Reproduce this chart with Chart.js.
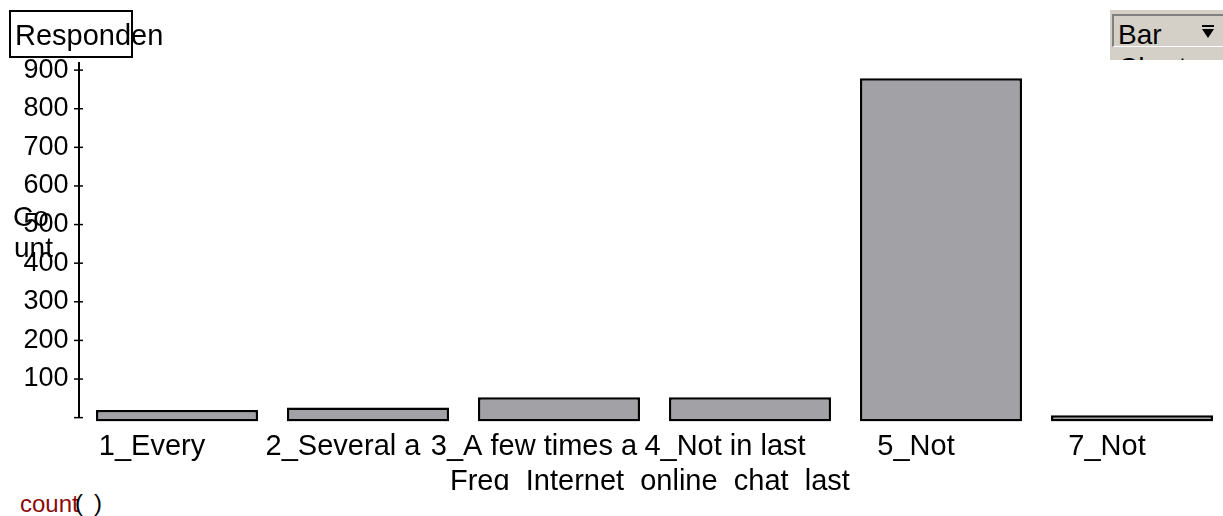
<!DOCTYPE html>
<html>
<head>
<meta charset="utf-8">
<title>Responden</title>
<script src="https://cdn.jsdelivr.net/npm/chart.js@4.4.1/dist/chart.umd.min.js"></script>
<style>
  body { margin: 0; background: #fff; overflow: hidden; width: 1223px; height: 516px; position: relative;
         font-family: "Liberation Sans", Arial, sans-serif; }
  #wrap { position: absolute; left: 0; top: 0; width: 1240px; height: 470px; }
  .t { position: absolute; white-space: nowrap; color: #000; }
  #ttlBox { position: absolute; left: 9px; top: 10px; width: 120px; height: 44px; border: 2px solid #000; }
  #xTitle { position: absolute; left: 450px; top: 462px; width: 420px; height: 28px; overflow: hidden; }
  #panel { position: absolute; left: 1110px; top: 10px; width: 113px; height: 50px; background: #d4d0c8; overflow: hidden; }
  #field { position: absolute; left: 2px; top: 4px; width: 120px; height: 30px;
           border-top: 2px solid #808080; border-left: 2px solid #808080; border-bottom: 1px solid #fff; }
  #arrowBar { position: absolute; left: 88px; top: 9px; width: 12px; height: 2px; background: #000; }
  #arrowTri { position: absolute; left: 88px; top: 13px; width: 0; height: 0;
              border-left: 6px solid transparent; border-right: 6px solid transparent; border-top: 9px solid #000; }
</style>
</head>
<body>
<div id="wrap"><canvas id="chart" width="1240" height="470"></canvas></div>

<div id="ttlBox"></div>
<div class="t" style="left:15px; top:20.5px; font-size:29px; line-height:29px;">Responden</div>

<div class="t" style="left:13px; top:203px; font-size:28px; line-height:28px;">Co</div>
<div class="t" style="left:14px; top:234px; font-size:28px; line-height:28px;">unt</div>

<div id="xTitle"><div class="t" style="left:0; top:3.5px; font-size:29px; line-height:29px;">Freq_Internet_online_chat_last</div></div>

<div class="t" style="left:20px; top:492px; font-size:24px; line-height:24px; color:#8b0a0a;">count</div>
<div class="t" style="left:75px; top:491px; font-size:24px; line-height:24px;">(</div>
<div class="t" style="left:94px; top:491px; font-size:24px; line-height:24px;">)</div>

<div id="panel">
  <div id="field">
    <div class="t" style="left:4px; top:5px; font-size:28px; line-height:28px;">Bar</div>
    <div id="arrowBar"></div>
    <div id="arrowTri"></div>
  </div>
  <div class="t" style="left:8px; top:44px; font-size:28px; line-height:28px;">Chart</div>
</div>

<script>
const categories = ['1_Every', '2_Several a', '3_A few times a', '4_Not in last', '5_Not', '7_Not'];
const counts = [20, 26, 53, 53, 879, 6];
const yTicks = [0, 100, 200, 300, 400, 500, 600, 700, 800, 900];
const Y_MIN = -10;
const Y_MAX = 921;

Chart.defaults.font.family = '"Liberation Sans", Arial, sans-serif';
Chart.defaults.color = '#000';

// axis line and tick marks that cross it, like the original
const axisLine = {
  id: 'axisLine',
  afterDraw(chart) {
    const { ctx, chartArea } = chart;
    const y = chart.scales.y;
    const ax = chartArea.left - 2.5;
    ctx.save();
    ctx.strokeStyle = '#000';
    ctx.lineWidth = 2;
    ctx.beginPath();
    ctx.moveTo(ax, y.getPixelForValue(Y_MAX));
    ctx.lineTo(ax, y.getPixelForValue(0));
    ctx.stroke();
    ctx.lineWidth = 1.5;
    yTicks.forEach(v => {
      const py = y.getPixelForValue(v);
      ctx.beginPath();
      ctx.moveTo(ax - 5, py);
      ctx.lineTo(ax + 4, py);
      ctx.stroke();
    });
    ctx.restore();
  }
};

new Chart(document.getElementById('chart'), {
  type: 'bar',
  data: {
    labels: categories,
    datasets: [{
      data: counts,
      base: Y_MIN,
      backgroundColor: '#a2a1a6',
      borderColor: '#000',
      borderWidth: 2.5,
      borderSkipped: false,
      barPercentage: 0.848,
      categoryPercentage: 1
    }]
  },
  options: {
    responsive: false,
    animation: false,
    devicePixelRatio: 1,
    layout: { padding: { top: 62, right: 12.5, left: 0, bottom: 0 } },
    plugins: { legend: { display: false }, tooltip: { enabled: false } },
    scales: {
      x: {
        grid: { display: false, drawTicks: false },
        border: { display: false },
        ticks: { font: { size: 29 }, padding: 8, labelOffset: -25, maxRotation: 0, autoSkip: false },
        afterFit(s) { s.height = 48.5; }
      },
      y: {
        min: Y_MIN,
        max: Y_MAX,
        grid: { display: false, drawTicks: false },
        border: { display: false },
        afterBuildTicks(s) { s.ticks = yTicks.map(v => ({ value: v })); },
        ticks: { font: { size: 27 }, padding: 13, callback: v => (v === 0 ? '' : v) },
        afterFit(s) { s.width = 81.5; }
      }
    }
  },
  plugins: [axisLine]
});
</script>
</body>
</html>
